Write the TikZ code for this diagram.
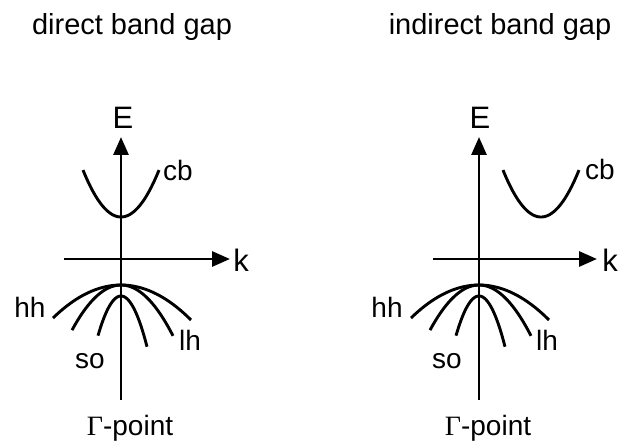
\documentclass[tikz,border=0pt]{standalone}
\usepackage{fontspec}
\setmainfont{Liberation Sans}
\newfontfamily\gammafont{Liberation Serif}
\usetikzlibrary{arrows.meta}

\begin{document}
\begin{tikzpicture}[
    x=1pt, y=-1pt,
    axis/.style={line width=2.9pt, -{Triangle[length=18pt, width=15pt]}},
    band/.style={line width=2.9pt},
    lbl/.style={font=\fontsize{28}{32}\selectfont, inner sep=0pt, anchor=base},
    axlbl/.style={lbl, font=\fontsize{31}{35}\selectfont},
    ttl/.style={font=\fontsize{29}{33}\selectfont, inner sep=0pt, anchor=base}
  ]
    \useasboundingbox (0,0) rectangle (620,443);

    % --- Titles ---
    \node[ttl] (titleL) at (132,35) {direct band gap};
    \node[ttl] (titleR) at (500,35) {indirect band gap};

    % --- Direct gap (left) ---
    \draw[axis] (121,400) -- (121,137);
    \draw[axis] (64,259) -- (230,259);
    \node[axlbl] (EL) at (123,129) {E};
    \node[axlbl] (kL) at (241,272) {k};

    \draw[band] plot[domain=-38:38, samples=40] ({121+\x},{217-0.0325*\x*\x});
    \node[lbl] (cbL) at (178,181) {cb};

    \draw[band] plot[domain=-68:70, samples=40] ({121+\x},{285+0.00714*\x*\x});
    \draw[band] plot[domain=-49:52, samples=40] ({121+\x},{285+0.0188*\x*\x});
    \draw[band] plot[domain=-23:26, samples=40] ({121+\x},{296+0.075*\x*\x});
    \node[lbl] (hhL) at (30,317) {hh};
    \node[lbl] (lhL) at (190,350) {lh};
    \node[lbl] (soL) at (90,368) {so};
    \node[lbl] (gammaL) at (130,435) {{\gammafont Γ}-point};

    % --- Indirect gap (right) ---
    \draw[axis] (479,400) -- (479,137);
    \draw[axis] (433,259) -- (597,259);
    \node[axlbl] (ER) at (480,129) {E};
    \node[axlbl] (kR) at (610,271) {k};

    \draw[band] plot[domain=-38:38, samples=40] ({541+\x},{217-0.0325*\x*\x});
    \node[lbl] (cbR) at (600,180) {cb};

    \draw[band] plot[domain=-68:70, samples=40] ({479+\x},{285+0.00714*\x*\x});
    \draw[band] plot[domain=-49:52, samples=40] ({479+\x},{285+0.0188*\x*\x});
    \draw[band] plot[domain=-23:26, samples=40] ({479+\x},{296+0.075*\x*\x});
    \node[lbl] (hhR) at (387,317) {hh};
    \node[lbl] (lhR) at (547,350) {lh};
    \node[lbl] (soR) at (447,368) {so};
    \node[lbl] (gammaR) at (488,435) {{\gammafont Γ}-point};

  \end{tikzpicture}
\end{document}
